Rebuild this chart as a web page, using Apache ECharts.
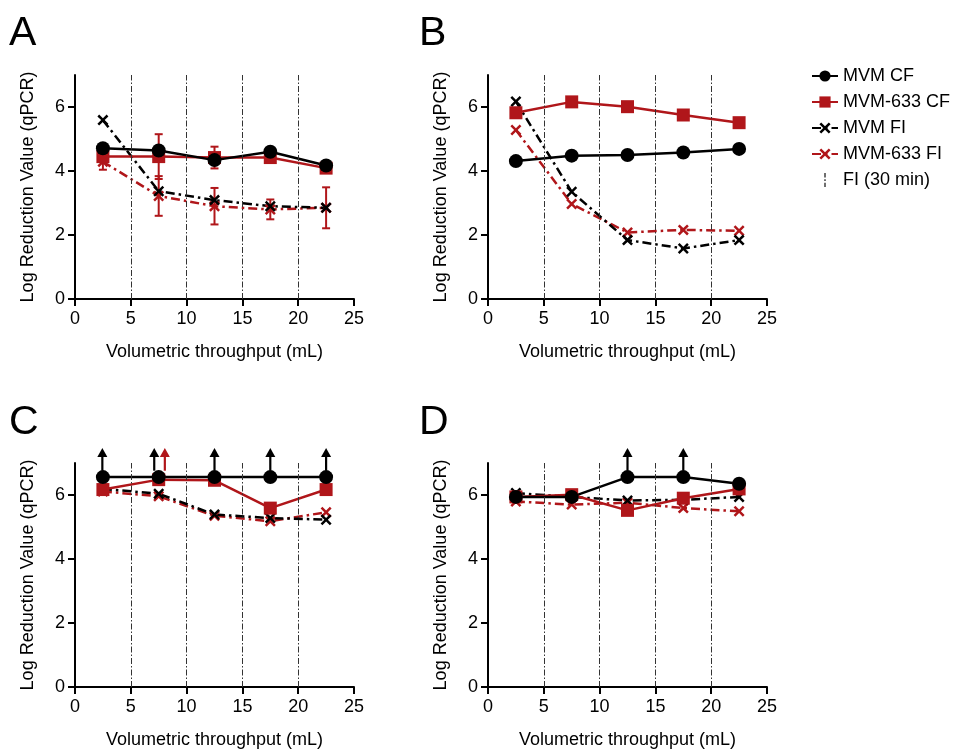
<!DOCTYPE html>
<html>
<head>
<meta charset="utf-8">
<script src="https://cdn.jsdelivr.net/npm/echarts@6.0.0/dist/echarts.min.js"></script>
<style>
  html, body { margin: 0; padding: 0; background: #fff; }
  #main { width: 955px; height: 751px; }
</style>
</head>
<body>
<div id="main"></div>
<script>
// x positions of the samples (mL) and axis ticks
const xVals = [2.5, 7.5, 12.5, 17.5, 22.5];
const fiTimes = [5, 10, 15, 20];
const yTicks = [0, 2, 4, 6];

// panel A
const aMvmCF = [4.71, 4.64, 4.34, 4.60, 4.17];
const aM633CF = [4.45, 4.45, 4.42, 4.42, 4.09];
const aMvmFI = [5.59, 3.37, 3.09, 2.90, 2.85];
const aM633FI = [4.29, 3.22, 2.90, 2.80, 2.85];
const aM633CFErr = [0.08, 0.70, 0.34, 0.06, 0.05];
const aM633FIErr = [0.25, 0.62, 0.57, 0.31, 0.64];

// panel B
const bMvmCF = [4.31, 4.48, 4.50, 4.58, 4.69];
const bM633CF = [5.82, 6.16, 6.01, 5.75, 5.51];
const bMvmFI = [6.17, 3.35, 1.84, 1.58, 1.84];
const bM633FI = [5.28, 2.97, 2.08, 2.16, 2.13];

// panel C
const cMvmCF = [6.56, 6.56, 6.56, 6.56, 6.56];
const cM633CF = [6.17, 6.48, 6.46, 5.59, 6.17];
const cMvmFI = [6.19, 6.04, 5.39, 5.28, 5.23];
const cM633FI = [6.11, 5.96, 5.35, 5.18, 5.46];
const cArrowsBlack = [2.45, 7.1, 12.5, 17.5, 22.5];
const cArrowsRed = [8.05];

// panel D
const dMvmCF = [5.94, 5.94, 6.56, 6.56, 6.35];
const dM633CF = [5.94, 6.01, 5.52, 5.90, 6.19];
const dMvmFI = [6.06, 5.94, 5.83, 5.85, 5.94];
const dM633FI = [5.80, 5.70, 5.76, 5.59, 5.49];
const dArrowsBlack = [12.5, 17.5];

// arrows (values above detection limit)
const arrowBase = 6.76;
const arrowTip = 7.47;

const BLACK = '#000';
const RED = '#B0161A';
const FONT = 'Liberation Sans, Arial, sans-serif';
const X_SYMBOL = 'path://M0,1.6L1.6,0L5,3.4L8.4,0L10,1.6L6.6,5L10,8.4L8.4,10L5,6.6L1.6,10L0,8.4L3.4,5Z';
const DASHDOT = [9, 4, 2.5, 4];

const chartDom = document.getElementById('main');
const myChart = echarts.init(chartDom);

const pos = [
  { left: 75, top: 75 },
  { left: 488, top: 75 },
  { left: 75, top: 463 },
  { left: 488, top: 463 }
];
const panels = [
  { mvmCF: aMvmCF, m633CF: aM633CF, mvmFI: aMvmFI, m633FI: aM633FI, cfErr: aM633CFErr, fiErr: aM633FIErr },
  { mvmCF: bMvmCF, m633CF: bM633CF, mvmFI: bMvmFI, m633FI: bM633FI },
  { mvmCF: cMvmCF, m633CF: cM633CF, mvmFI: cMvmFI, m633FI: cM633FI, arrowsBlack: cArrowsBlack, arrowsRed: cArrowsRed },
  { mvmCF: dMvmCF, m633CF: dM633CF, mvmFI: dMvmFI, m633FI: dM633FI, arrowsBlack: dArrowsBlack }
];
const letters = ['A', 'B', 'C', 'D'];

const pair = (ys) => xVals.map((x, i) => [x, ys[i]]);

function errRender(params, api) {
  const x = api.value(0);
  const lo = api.coord([x, api.value(1)]);
  const hi = api.coord([x, api.value(2)]);
  const c = api.visual('color');
  const w = 4;
  return {
    type: 'group',
    children: [
      { type: 'line', shape: { x1: lo[0], y1: lo[1], x2: hi[0], y2: hi[1] }, style: { stroke: c, lineWidth: 2 } },
      { type: 'line', shape: { x1: lo[0] - w, y1: lo[1], x2: lo[0] + w, y2: lo[1] }, style: { stroke: c, lineWidth: 2 } },
      { type: 'line', shape: { x1: hi[0] - w, y1: hi[1], x2: hi[0] + w, y2: hi[1] }, style: { stroke: c, lineWidth: 2 } }
    ]
  };
}

function arrowRender(params, api) {
  const x = api.value(0);
  const p0 = api.coord([x, arrowBase]);
  const p1 = api.coord([x, arrowTip]);
  const c = api.visual('color');
  return {
    type: 'group',
    children: [
      { type: 'line', shape: { x1: p0[0], y1: p0[1], x2: p1[0], y2: p1[1] + 6 }, style: { stroke: c, lineWidth: 2.2 } },
      { type: 'polygon', shape: { points: [[p1[0], p1[1]], [p1[0] - 5, p1[1] + 9], [p1[0] + 5, p1[1] + 9]] }, style: { fill: c } }
    ]
  };
}

const grids = [], xAxes = [], yAxes = [], series = [], graphics = [];

panels.forEach((p, i) => {
  grids.push({ left: pos[i].left, top: pos[i].top, width: 279, height: 224, containLabel: false });
  xAxes.push({
    gridIndex: i, type: 'value', min: 0, max: 25, interval: 5,
    axisLine: { show: true, onZero: false, lineStyle: { color: BLACK, width: 2 } },
    axisTick: { show: true, inside: false, length: 7, lineStyle: { color: BLACK, width: 2 } },
    axisLabel: { color: BLACK, fontSize: 18, fontFamily: FONT, margin: 11 },
    splitLine: { show: false },
    name: 'Volumetric throughput (mL)', nameLocation: 'middle', nameGap: 44,
    nameTextStyle: { color: BLACK, fontSize: 18, fontFamily: FONT }
  });
  yAxes.push({
    gridIndex: i, type: 'value', min: 0, max: 7,
    axisLine: { show: true, lineStyle: { color: BLACK, width: 2 } },
    axisTick: { show: true, inside: false, length: 7, customValues: yTicks, lineStyle: { color: BLACK, width: 2 } },
    axisLabel: { color: BLACK, fontSize: 18, fontFamily: FONT, margin: 10, customValues: yTicks },
    splitLine: { show: false },
    name: 'Log Reduction Value (qPCR)', nameLocation: 'middle', nameGap: 38,
    nameTextStyle: { color: BLACK, fontSize: 18, fontFamily: FONT }
  });

  // FI (30 min) vertical dash-dot markers
  series.push({
    name: 'FI (30 min)', type: 'line', xAxisIndex: i, yAxisIndex: i, data: [],
    lineStyle: { color: '#333', width: 1, type: [6, 2, 1.5, 2] },
    itemStyle: { color: '#333' },
    markLine: {
      silent: true, symbol: 'none', animation: false,
      label: { show: false },
      lineStyle: { color: '#333', width: 1, type: [6, 2, 1.5, 2] },
      data: fiTimes.map(v => [{ coord: [v, 0] }, { coord: [v, 7] }])
    }
  });

  if (p.fiErr) {
    series.push({
      type: 'custom', xAxisIndex: i, yAxisIndex: i, renderItem: errRender,
      itemStyle: { color: RED }, encode: { x: 0, y: [1, 2] },
      data: xVals.map((x, k) => [x, p.m633FI[k] - p.fiErr[k], p.m633FI[k] + p.fiErr[k]])
    });
    series.push({
      type: 'custom', xAxisIndex: i, yAxisIndex: i, renderItem: errRender,
      itemStyle: { color: RED }, encode: { x: 0, y: [1, 2] },
      data: xVals.map((x, k) => [x, p.m633CF[k] - p.cfErr[k], p.m633CF[k] + p.cfErr[k]])
    });
  }

  series.push({
    name: 'MVM-633 FI', type: 'line', xAxisIndex: i, yAxisIndex: i, data: pair(p.m633FI),
    symbol: X_SYMBOL, symbolSize: 11,
    lineStyle: { color: RED, width: 2.5, type: DASHDOT },
    itemStyle: { color: RED }
  });
  series.push({
    name: 'MVM FI', type: 'line', xAxisIndex: i, yAxisIndex: i, data: pair(p.mvmFI),
    symbol: X_SYMBOL, symbolSize: 11,
    lineStyle: { color: BLACK, width: 2.5, type: DASHDOT },
    itemStyle: { color: BLACK }
  });
  series.push({
    name: 'MVM-633 CF', type: 'line', xAxisIndex: i, yAxisIndex: i, data: pair(p.m633CF),
    symbol: 'rect', symbolSize: 13,
    lineStyle: { color: RED, width: 2.5 },
    itemStyle: { color: RED }
  });
  series.push({
    name: 'MVM CF', type: 'line', xAxisIndex: i, yAxisIndex: i, data: pair(p.mvmCF),
    symbol: 'circle', symbolSize: 14,
    lineStyle: { color: BLACK, width: 2.5 },
    itemStyle: { color: BLACK }
  });

  if (p.arrowsBlack) {
    series.push({
      type: 'custom', xAxisIndex: i, yAxisIndex: i, renderItem: arrowRender, clip: false,
      itemStyle: { color: BLACK }, encode: { x: 0, y: 1 },
      data: p.arrowsBlack.map(x => [x, arrowBase])
    });
  }
  if (p.arrowsRed) {
    series.push({
      type: 'custom', xAxisIndex: i, yAxisIndex: i, renderItem: arrowRender, clip: false,
      itemStyle: { color: RED }, encode: { x: 0, y: 1 },
      data: p.arrowsRed.map(x => [x, arrowBase])
    });
  }

  graphics.push({
    type: 'text', left: i % 2 === 0 ? 9 : 419, top: i < 2 ? 13 : 402,
    style: { text: letters[i], fontSize: 41, fontFamily: FONT, fill: BLACK }
  });
});

const option = {
  animation: false,
  backgroundColor: '#fff',
  grid: grids,
  xAxis: xAxes,
  yAxis: yAxes,
  series: series,
  graphic: graphics,
  legend: {
    orient: 'vertical', left: 806, top: 62,
    itemWidth: 26, itemHeight: 14, itemGap: 8,
    textStyle: { color: BLACK, fontSize: 18, fontFamily: FONT },
    data: [
      { name: 'MVM CF' },
      { name: 'MVM-633 CF' },
      { name: 'MVM FI' },
      { name: 'MVM-633 FI' },
      { name: 'FI (30 min)', icon: 'path://M12,0h1.6v5h-1.6zM12,7h1.6v2h-1.6zM12,11h1.6v5h-1.6z' }
    ]
  }
};

myChart.setOption(option);
</script>
</body>
</html>
